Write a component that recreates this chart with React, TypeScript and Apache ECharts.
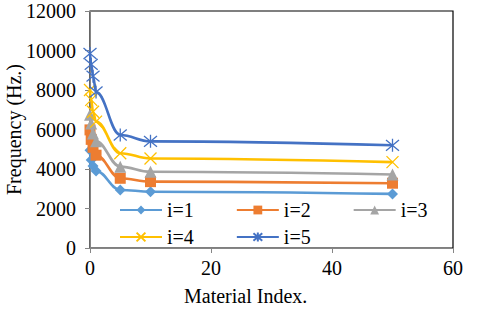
import React, { useEffect, useRef } from "react";
import * as echarts from "echarts";

const xValues = [0, 0.2, 0.5, 1, 5, 10, 50];
const seriesNames = ["i=1", "i=2", "i=3", "i=4", "i=5"];
const i1 = [4950, 4450, 4150, 3900, 2940, 2850, 2740];
const i2 = [5980, 5500, 5100, 4700, 3530, 3360, 3280];
const i3 = [6750, 6300, 5800, 5400, 4120, 3860, 3720];
const i4 = [8000, 7500, 6900, 6400, 4800, 4530, 4350];
const i5 = [9850, 9300, 8700, 7900, 5720, 5400, 5200];
const allValues = [i1, i2, i3, i4, i5];
const colors = ["#5B9BD5", "#ED7D31", "#A5A5A5", "#FFC000", "#4472C4"];
const symbols = [
  "diamond",
  "rect",
  "triangle",
  "path://M0,0L10,10M10,0L0,10",
  "path://M0,1L10,11M10,1L0,11M5,0L5,12",
];
const symbolSizes = [11, 11, 12, 12, 13];

const FONT = "Liberation Serif";

export default function App() {
  const ref = useRef<HTMLDivElement>(null);
  useEffect(() => {
    if (!ref.current) return;
    const chart = echarts.init(ref.current, null, { renderer: "svg" });
    const series = allValues.map((vals, k) => ({
      name: seriesNames[k],
      type: "line",
      data: xValues.map((x, j) => [x, vals[j]]),
      smooth: 0.4,
      smoothMonotone: "x",
      symbol: symbols[k],
      symbolSize: symbolSizes[k],
      lineStyle: { color: colors[k], width: 2.6 },
      itemStyle: {
        color: colors[k],
        borderColor: colors[k],
        borderWidth: k >= 3 ? 1.3 : 0,
      },
      z: 2 + k,
    }));
    const legendCommon = {
      itemWidth: 42,
      itemHeight: 11,
      itemGap: 42,
      padding: 0,
      textStyle: { fontFamily: FONT, fontSize: 20, color: "#000" },
    };
    const labelCommon = {
      fontFamily: FONT,
      fontSize: 20,
      color: "#000",
      formatter: (v: number) => String(v),
    };
    chart.setOption({
      animation: false,
      textStyle: { fontFamily: FONT, fontSize: 20, color: "#000" },
      grid: {
        left: 90,
        right: 27,
        top: 11,
        bottom: 61,
        containLabel: false,
        outerBoundsMode: "none",
        show: true,
        borderColor: "#000",
        borderWidth: 1.2,
        backgroundColor: "transparent",
      },
      legend: [
        { ...legendCommon, data: seriesNames.slice(0, 3), left: 119, top: 200 },
        { ...legendCommon, data: seriesNames.slice(3), left: 119, top: 227 },
      ],
      xAxis: {
        type: "value",
        min: 0,
        max: 60,
        interval: 20,
        axisLine: { show: true, lineStyle: { color: "#868686", width: 1 } },
        axisTick: { show: true, inside: false, length: 5, lineStyle: { color: "#868686" } },
        splitLine: { show: false },
        axisLabel: { ...labelCommon, margin: 10 },
      },
      yAxis: {
        type: "value",
        min: 0,
        max: 12000,
        interval: 2000,
        name: "Frequency (Hz.)",
        nameLocation: "middle",
        nameGap: 66,
        nameRotate: 90,
        nameMoveOverlap: false,
        nameTextStyle: { fontFamily: FONT, fontSize: 20, color: "#000" },
        axisLine: { show: true, lineStyle: { color: "#868686", width: 1 } },
        axisTick: { show: true, inside: false, length: 5, lineStyle: { color: "#868686" } },
        splitLine: { show: false },
        axisLabel: { ...labelCommon, margin: 14 },
      },
      graphic: [
        {
          type: "text",
          left: 184,
          top: 286,
          style: {
            text: "Material Index.",
            fontFamily: FONT,
            fontSize: 20,
            fill: "#000",
          },
        },
      ],
      series,
    });
    return () => chart.dispose();
  }, []);
  return (
    <div
      ref={ref}
      style={{ position: "fixed", left: 0, top: 0, width: 480, height: 309, background: "#fff" }}
    />
  );
}
